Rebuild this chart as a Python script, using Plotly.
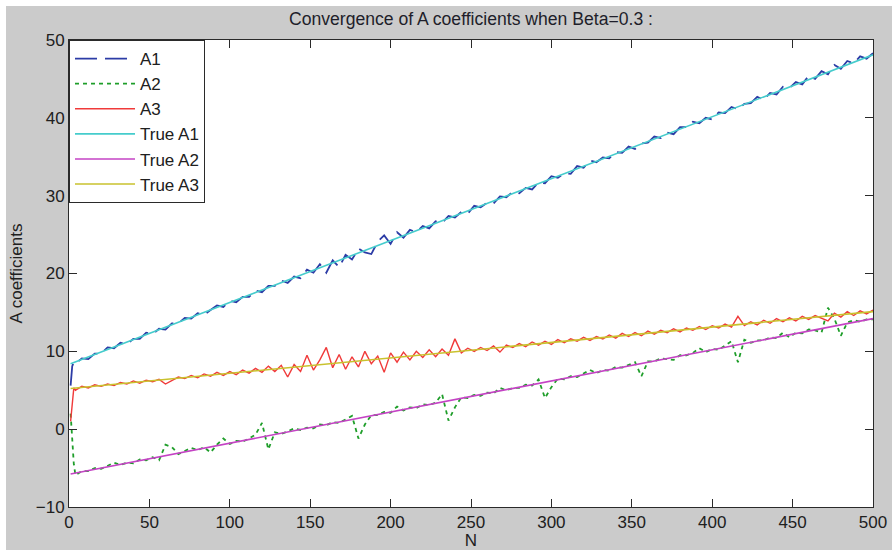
import plotly.graph_objects as go

# ---------------- data ----------------
N = [1, 2, 3] + list(range(4, 501, 4))

A1 = [5.6, 8.1, 8.6,
      8.4, 9.1, 9.0, 9.7, 9.7, 10.5, 10.4, 11.1, 10.9, 11.6,
      11.6, 12.4, 12.2, 12.9, 12.8, 13.6, 13.6, 14.3, 14.2, 14.9,
      14.7, 15.3, 15.9, 15.7, 16.5, 16.3, 17.0, 17.0, 17.8, 17.6,
      18.4, 18.4, 19.1, 18.8, 19.6, 19.4, 20.5, 20.1, 21.2, 20.1,
      21.7, 20.8, 22.4, 21.8, 23.2, 22.7, 22.5, 24.1, 24.9, 23.8,
      25.3, 24.6, 25.6, 25.3, 26.1, 25.8, 26.7, 26.5, 27.4, 27.2,
      27.9, 27.7, 28.7, 28.5, 29.1, 29.0, 29.9, 29.8, 30.5, 30.3,
      31.0, 30.8, 31.7, 31.6, 32.5, 32.3, 32.9, 32.8, 33.8, 33.6,
      34.5, 34.3, 34.9, 34.8, 35.6, 35.5, 36.3, 36.0, 36.7, 36.8,
      37.6, 37.4, 38.1, 37.9, 38.8, 38.8, 39.5, 39.3, 40.0, 39.8,
      40.7, 40.6, 41.4, 41.1, 41.8, 41.9, 42.7, 42.3, 43.2, 43.0,
      44.0, 43.8, 44.6, 44.3, 45.4, 45.0, 46.0, 45.6, 46.8, 46.3,
      47.3, 47.0, 47.9, 47.6, 48.3]

A2 = [2.0, -1.5, -4.5,
      -5.9, -5.4, -5.4, -5.0, -5.1, -4.7, -4.3, -4.6, -4.3, -4.4,
      -3.9, -4.0, -3.6, -4.0, -2.0, -2.3, -3.2, -2.8, -2.4, -2.7,
      -2.3, -3.0, -2.0, -1.2, -1.9, -1.5, -1.6, -1.2, -0.7, 0.8,
      -2.6, -0.4, -0.6, -0.3, 0.1, -0.1, 0.2, 0.1, 0.6, 0.5,
      0.9, 0.8, 1.2, 1.7, -1.2, 0.6, 1.8, 1.8, 2.2, 2.1,
      2.9, 2.4, 2.8, 2.7, 3.2, 3.1, 3.4, 4.5, 1.1, 2.8,
      4.1, 4.0, 4.4, 4.3, 4.7, 4.6, 5.3, 5.0, 5.3, 5.3,
      5.7, 5.6, 6.4, 4.0, 5.4, 6.5, 6.4, 6.8, 6.7, 7.1,
      7.6, 7.2, 7.6, 7.5, 8.0, 7.9, 8.2, 8.6, 6.8, 8.7,
      8.7, 9.1, 9.0, 8.9, 9.5, 9.5, 9.8, 10.4, 9.9, 10.3,
      10.2, 10.7, 11.3, 8.6, 11.5, 11.1, 11.4, 11.4, 11.8, 11.7,
      12.4, 11.8, 12.4, 12.3, 12.8, 12.7, 12.4, 15.6, 14.2, 12.0,
      13.7, 14.0, 13.8, 14.1, 14.1]

A3 = [1.0, 3.0, 5.3,
      5.0, 5.5, 5.3, 5.7, 5.5, 5.8, 5.6, 6.0, 5.8, 6.2,
      5.9, 6.3, 6.1, 6.4, 5.8, 6.2, 6.7, 6.5, 6.9, 6.6,
      7.1, 6.8, 7.3, 6.9, 7.4, 7.0, 7.6, 7.2, 7.8, 7.3,
      8.1, 7.4, 8.2, 6.7, 8.3, 7.4, 9.5, 7.6, 8.9, 10.5,
      7.9, 9.6, 7.7, 9.3, 8.0, 10.0, 8.4, 9.4, 7.3, 9.8,
      8.6, 9.9, 8.9, 10.0, 9.2, 10.2, 9.3, 10.3, 9.5, 11.6,
      9.8, 10.4, 10.0, 10.5, 10.1, 10.7, 9.9, 10.8, 10.5, 11.0,
      10.6, 11.2, 10.8, 11.3, 10.9, 11.5, 11.1, 11.6, 11.3, 11.8,
      11.4, 11.9, 11.6, 12.1, 11.7, 12.3, 11.9, 12.4, 12.0, 12.6,
      12.2, 12.7, 12.4, 12.9, 12.5, 13.0, 12.7, 13.2, 12.8, 13.3,
      13.0, 13.5, 13.1, 14.5, 13.3, 13.8, 13.4, 14.0, 13.6, 14.2,
      13.8, 14.3, 13.9, 14.5, 14.1, 14.6, 14.2, 13.9, 14.9, 14.4,
      15.1, 14.6, 15.2, 14.8, 15.3]

N_true = [1, 500]
TRUE_A1 = [8.4, 48.1]
TRUE_A2 = [-5.76, 14.2]
TRUE_A3 = [5.22, 15.1]

X_TICKS = [0, 50, 100, 150, 200, 250, 300, 350, 400, 450, 500]
Y_TICKS = [-10, 0, 10, 20, 30, 40, 50]

TITLE = "Convergence of A coefficients when Beta=0.3 :"

# ---------------- figure ----------------
W, H = 892, 550
ML, MR, MT, MB = 69, 19, 40, 43
PW, PH = W - ML - MR, H - MT - MB

FONT = "Liberation Sans, Arial, sans-serif"
TXT = "#202020"

fig = go.Figure()
fig.add_trace(go.Scatter(x=N, y=A1, mode="lines", name="A1",
                         line=dict(color="#2c3ca6", width=1.8, dash="22px,8px")))
fig.add_trace(go.Scatter(x=N, y=A2, mode="lines", name="A2",
                         line=dict(color="#1f9e2a", width=1.8, dash="4px,4px")))
fig.add_trace(go.Scatter(x=N, y=A3, mode="lines", name="A3",
                         line=dict(color="#f03a3a", width=1.4)))
fig.add_trace(go.Scatter(x=N_true, y=TRUE_A1, mode="lines", name="True A1",
                         line=dict(color="#45cccc", width=1.6)))
fig.add_trace(go.Scatter(x=N_true, y=TRUE_A2, mode="lines", name="True A2",
                         line=dict(color="#c443c4", width=1.6)))
fig.add_trace(go.Scatter(x=N_true, y=TRUE_A3, mode="lines", name="True A3",
                         line=dict(color="#c9c22e", width=1.6)))

axis_common = dict(
    showgrid=False, zeroline=False, showline=True, mirror="ticks",
    linecolor="#2a2a2a", linewidth=1, ticks="inside", ticklen=8,
    tickcolor="#2a2a2a", tickwidth=1, automargin=False,
    tickfont=dict(family=FONT, size=17, color=TXT),
)

fig.update_xaxes(range=[0, 500], tickvals=X_TICKS, **axis_common,
                 title=dict(text="N", font=dict(family=FONT, size=17, color=TXT),
                            standoff=12))
fig.update_yaxes(range=[-10, 50], tickvals=Y_TICKS, **axis_common,
                 title=dict(text="A coefficients", font=dict(family=FONT, size=17, color=TXT),
                            standoff=8))

# white border strips at top and left of the grey figure
def px_x(p):
    return (p - ML) / PW

def px_y(p):
    return (H - MB - p) / PH

shapes = [
    dict(type="rect", xref="paper", yref="paper", x0=px_x(0), x1=px_x(W),
         y0=px_y(6), y1=px_y(0), fillcolor="white", line=dict(width=0), layer="below"),
    dict(type="rect", xref="paper", yref="paper", x0=px_x(0), x1=px_x(6),
         y0=px_y(H), y1=px_y(0), fillcolor="white", line=dict(width=0), layer="below"),
]

fig.update_layout(
    width=W, height=H,
    margin=dict(l=ML, r=MR, t=MT, b=MB, pad=0, autoexpand=False),
    paper_bgcolor="#cbcbcb", plot_bgcolor="white",
    title=dict(text=TITLE, x=0.5, xref="paper", xanchor="center",
               y=1 - 19 / H, yref="container", yanchor="middle",
               font=dict(family=FONT, size=17.6, color="#1e1e2a")),
    legend=dict(x=0, y=1, xanchor="left", yanchor="top",
                bgcolor="white", bordercolor="#2a2a2a", borderwidth=1,
                font=dict(family=FONT, size=17, color=TXT),
                itemwidth=60, tracegroupgap=0),
    shapes=shapes,
    showlegend=True,
)

fig.write_html(
    "out.html",
    config={"displayModeBar": False},
    post_script="document.body.style.margin='0';document.body.style.padding='0';"
                "document.body.style.overflow='hidden';",
)
